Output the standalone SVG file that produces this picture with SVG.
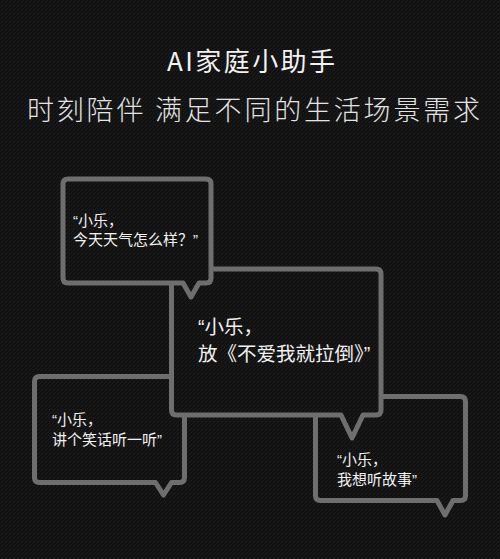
<svg xmlns="http://www.w3.org/2000/svg" width="500" height="559" viewBox="0 0 500 559">
  <defs>
    <pattern id="tex" patternUnits="userSpaceOnUse" width="4" height="4">
      <rect width="4" height="4" fill="#111111"/>
      <path d="M0 4 L4 0" stroke="#202020" stroke-width="0.8"/>
      <rect x="1" y="1" width="1" height="1" fill="#1b1b1b"/>
    </pattern>
    <style>
      .bubble { fill: url(#tex); stroke: #6e6e6e; stroke-width: 5; stroke-linejoin: round; }
      .t { font-family: "Noto Sans CJK SC", "Noto Sans", sans-serif; fill: #f2f2f2; }
      .q { font-family: "Liberation Sans", "Noto Sans", sans-serif; }
      .title { font-size: 26px; }
      .sub { font-size: 27px; font-weight: 300; fill: #e4e4e4; }
      .s15 { font-size: 15px; }
      .s20 { font-size: 19.5px; }
    </style>
  </defs>

  <rect id="background" x="0" y="0" width="500" height="559" fill="url(#tex)"/>

  <g id="header">
    <text class="t title" x="167" y="71" textLength="168" lengthAdjust="spacing">AI家庭小助手</text>
    <text class="t sub" x="27" y="120" textLength="453" lengthAdjust="spacing">时刻陪伴 满足不同的生活场景需求</text>
  </g>

  <g id="bubble-story">
    <path class="bubble" d="M320.5 396.5 H460.5 Q465.5 396.5 465.5 401.5 V495.5 Q465.5 500.5 460.5 500.5 H453 L445 515 L437 500.5 H320.5 Q315.5 500.5 315.5 495.5 V401.5 Q315.5 396.5 320.5 396.5 Z"/>
    <text class="t s15"><tspan x="337" y="465"><tspan class="q">“</tspan>小乐，</tspan><tspan x="337" y="485">我想听故事<tspan class="q">”</tspan></tspan></text>
  </g>

  <g id="bubble-joke">
    <path class="bubble" d="M39.5 376.5 H179.5 Q184.5 376.5 184.5 381.5 V477.5 Q184.5 482.5 179.5 482.5 H171.5 L163.5 495 L155.5 482.5 H39.5 Q34.5 482.5 34.5 477.5 V381.5 Q34.5 376.5 39.5 376.5 Z"/>
    <text class="t s15"><tspan x="52" y="425"><tspan class="q">“</tspan>小乐，</tspan><tspan x="52" y="445">讲个笑话听一听<tspan class="q">”</tspan></tspan></text>
  </g>

  <g id="bubble-music">
    <path class="bubble" d="M176.5 269 H376 Q381 269 381 274 V410 Q381 415 376 415 H363 L352 438 L341 415 H176.5 Q171.5 415 171.5 410 V274 Q171.5 269 176.5 269 Z"/>
    <text class="t s20"><tspan x="198" y="334"><tspan class="q">“</tspan>小乐，</tspan><tspan x="198" y="361">放《不爱我就拉倒》<tspan class="q">”</tspan></tspan></text>
  </g>

  <g id="bubble-weather">
    <path class="bubble" d="M68 179 H206 Q211 179 211 184 V278 Q211 283 206 283 H199 L191 297 L183 283 H68 Q63 283 63 278 V184 Q63 179 68 179 Z"/>
    <text class="t s15"><tspan x="73" y="226"><tspan class="q">“</tspan>小乐，</tspan><tspan x="73" y="245">今天天气怎么样？<tspan class="q">”</tspan></tspan></text>
  </g>
</svg>
